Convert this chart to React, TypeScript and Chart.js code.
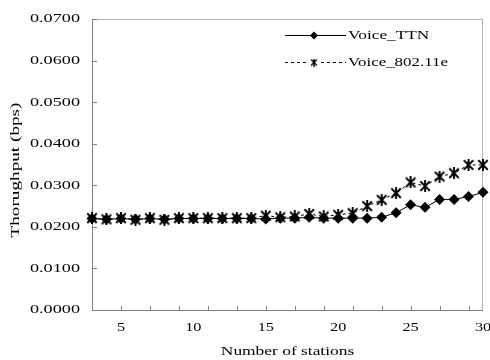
import React, { useEffect, useRef } from "react";
import { Chart, registerables } from "chart.js";

Chart.register(...registerables);

const stations = [3, 4, 5, 6, 7, 8, 9, 10, 11, 12, 13, 14, 15, 16, 17, 18, 19, 20, 21, 22, 23, 24, 25, 26, 27, 28, 29, 30];
const voiceTTN = [0.0220, 0.0218, 0.0220, 0.0218, 0.0220, 0.0218, 0.0220, 0.0220, 0.0220, 0.0220, 0.0220, 0.0220, 0.0219, 0.0221, 0.0221, 0.0223, 0.0221, 0.0221, 0.0221, 0.0221, 0.0223, 0.0234, 0.0253, 0.0247, 0.0266, 0.0266, 0.0273, 0.0283];
const voice80211e = [0.0221, 0.0218, 0.0221, 0.0217, 0.0221, 0.0217, 0.0221, 0.0221, 0.0221, 0.0221, 0.0221, 0.0221, 0.0227, 0.0223, 0.0225, 0.0231, 0.0225, 0.0229, 0.0233, 0.0250, 0.0265, 0.0281, 0.0307, 0.0298, 0.0321, 0.0329, 0.0349, 0.0349];
const seriesNames = ["Voice_TTN", "Voice_802.11e"];
const xTickLabels = [5, 10, 15, 20, 25, 30];
const xTitle = "Number of stations";
const yTitle = "Thorughput (bps)";

const FONT = '"Liberation Serif", "Times New Roman", serif';

function drawText(ctx: CanvasRenderingContext2D, text: string, x: number, y: number, size: number, sx: number, align: CanvasTextAlign, rotate = false) {
  ctx.save();
  ctx.translate(x, y);
  if (rotate) ctx.rotate(-Math.PI / 2);
  ctx.scale(sx, 1);
  ctx.font = `${size}px ${FONT}`;
  ctx.fillStyle = "#000";
  ctx.textAlign = align;
  ctx.textBaseline = "middle";
  ctx.fillText(text, 0, 0);
  ctx.restore();
}

function makeStar(size: number, lw: number) {
  const c = document.createElement("canvas");
  c.width = size;
  c.height = size;
  const g = c.getContext("2d")!;
  g.strokeStyle = "#000";
  g.lineWidth = lw;
  const m = lw / 2 + 0.3;
  g.beginPath();
  g.moveTo(m, m);
  g.lineTo(size - m, size - m);
  g.moveTo(size - m, m);
  g.lineTo(m, size - m);
  g.moveTo(size / 2, 0);
  g.lineTo(size / 2, size);
  g.stroke();
  return c;
}

function drawDiamond(ctx: CanvasRenderingContext2D, x: number, y: number, r: number) {
  ctx.beginPath();
  ctx.moveTo(x, y - r);
  ctx.lineTo(x + r, y);
  ctx.lineTo(x, y + r);
  ctx.lineTo(x - r, y);
  ctx.closePath();
  ctx.fill();
}

export default function App() {
  const ref = useRef<HTMLCanvasElement>(null);
  useEffect(() => {
    document.body.style.margin = "0";
    const canvas = ref.current!;
    const star = makeStar(12, 1.9);
    const legendStar = makeStar(8, 1.4);

    const decor = {
      id: "decor",
      beforeDatasetsDraw(chart: any) {
        const ctx = chart.ctx as CanvasRenderingContext2D;
        const a = chart.chartArea;
        const xs = chart.scales.x;
        const ys = chart.scales.y;
        ctx.save();
        ctx.lineWidth = 1;
        ctx.strokeStyle = "#b4b4b4";
        ctx.beginPath();
        ctx.moveTo(a.left, a.top + 0.5);
        ctx.lineTo(a.right - 0.5, a.top + 0.5);
        ctx.lineTo(a.right - 0.5, a.bottom);
        ctx.stroke();
        ctx.strokeStyle = "#7f7f7f";
        ctx.beginPath();
        ctx.moveTo(a.left + 0.5, a.top);
        ctx.lineTo(a.left + 0.5, a.bottom + 0.5);
        ctx.lineTo(a.right, a.bottom + 0.5);
        ctx.stroke();
        ctx.beginPath();
        ys.ticks.forEach((t: any) => {
          const py = Math.round(ys.getPixelForValue(t.value)) + 0.5;
          ctx.moveTo(a.left, py);
          ctx.lineTo(a.left + 5, py);
        });
        xs.ticks.forEach((t: any) => {
          const px = Math.round(xs.getPixelForValue(t.value)) + 0.5;
          ctx.moveTo(px, a.bottom);
          ctx.lineTo(px, a.bottom - 4);
        });
        ctx.stroke();
        ctx.restore();
      },
      afterDraw(chart: any) {
        const ctx = chart.ctx as CanvasRenderingContext2D;
        const a = chart.chartArea;
        const xs = chart.scales.x;
        const ys = chart.scales.y;
        ys.ticks.forEach((t: any) => {
          drawText(ctx, t.value.toFixed(4), 80, ys.getPixelForValue(t.value), 13, 1.4, "right");
        });
        xTickLabels.forEach((v) => {
          drawText(ctx, String(v), xs.getPixelForValue(v), 328, 13, 1.25, "center");
        });
        drawText(ctx, xTitle, (a.left + a.right) / 2, 352, 12, 1.45, "center");
        drawText(ctx, yTitle, 16, 170, 12, 1.6, "center", true);

        ctx.save();
        ctx.strokeStyle = "#000";
        ctx.fillStyle = "#000";
        ctx.lineWidth = 1;
        ctx.beginPath();
        ctx.moveTo(285, 35.5);
        ctx.lineTo(346, 35.5);
        ctx.stroke();
        drawDiamond(ctx, 314, 35.5, 4);
        ctx.setLineDash([3, 3]);
        ctx.beginPath();
        ctx.moveTo(285, 62.5);
        ctx.lineTo(346, 62.5);
        ctx.stroke();
        ctx.setLineDash([]);
        ctx.fillStyle = "#fff";
        ctx.fillRect(309, 58, 10, 9);
        ctx.drawImage(legendStar, 310, 58.5);
        ctx.restore();
        drawText(ctx, seriesNames[0], 348, 36, 13, 1.33, "left");
        drawText(ctx, seriesNames[1], 348, 63, 13, 1.3, "left");
      },
    };

    const chart = new Chart(canvas, {
      type: "line",
      data: {
        datasets: [
          {
            label: seriesNames[1],
            data: stations.map((s, i) => ({ x: s, y: voice80211e[i] })),
            borderColor: "#000",
            borderWidth: 1,
            borderDash: [3, 3],
            pointStyle: star as any,
            pointRadius: 6,
            backgroundColor: "#000",
            clip: false as any,
          },
          {
            label: seriesNames[0],
            data: stations.map((s, i) => ({ x: s, y: voiceTTN[i] })),
            borderColor: "#000",
            borderWidth: 1,
            pointStyle: "rectRot",
            pointRadius: 5.5,
            pointBackgroundColor: "#000",
            pointBorderColor: "#000",
            pointBorderWidth: 0,
            clip: false as any,
          },
        ],
      },
      options: {
        animation: false,
        responsive: false,
        devicePixelRatio: 1,
        layout: { padding: { left: 92, right: 7, top: 19, bottom: 50 } },
        plugins: { legend: { display: false }, tooltip: { enabled: false } },
        scales: {
          x: { type: "linear", display: false, min: 3, max: 30, ticks: { stepSize: 1 } },
          y: { type: "linear", display: false, min: 0, max: 0.07, ticks: { stepSize: 0.01 } },
        },
      },
      plugins: [decor],
    });
    return () => chart.destroy();
  }, []);
  return <canvas ref={ref} width={490} height={360} style={{ display: "block" }} />;
}
